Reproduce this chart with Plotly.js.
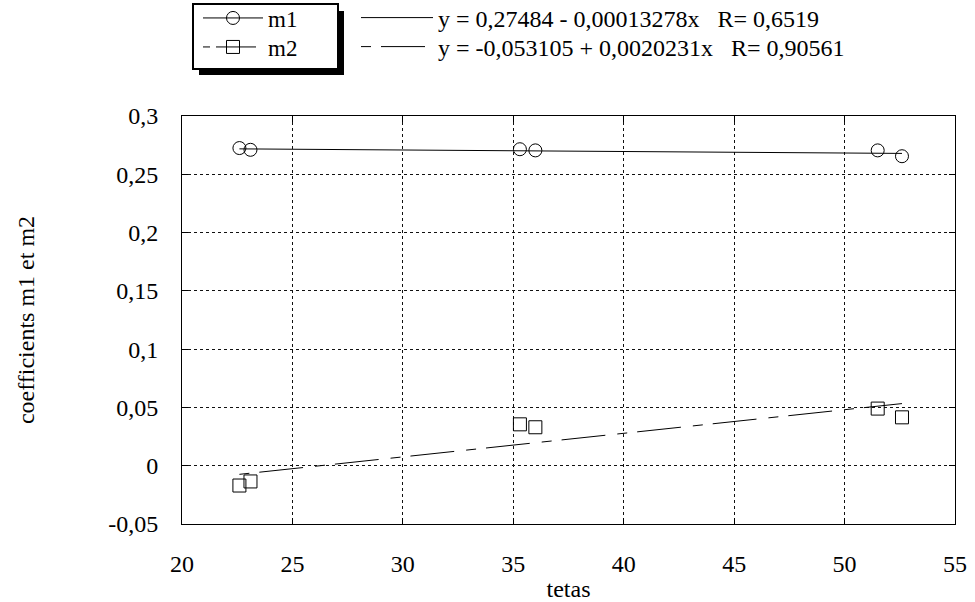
<!DOCTYPE html>
<html>
<head>
<meta charset="utf-8">
<script src="https://cdn.plot.ly/plotly-3.0.1.min.js"></script>
<style>
html,body{margin:0;padding:0;background:#fff;}
#chart{width:975px;height:602px;}
</style>
</head>
<body>
<div id="chart"></div>
<script>
// ---- data ----
const tetas = [22.6, 23.1, 35.3, 36.0, 51.5, 52.6];
const m1 = [0.2725, 0.2710, 0.2715, 0.2705, 0.2705, 0.2655];
const m2 = [-0.0170, -0.0135, 0.0355, 0.0330, 0.0490, 0.0415];
const fitX = [22.6, 52.6];
const fitM1 = [0.2718, 0.2679];
const fitM2 = [-0.0074, 0.0533];
const seriesNames = ["m1", "m2"];
const fitLabels = [
  "y = 0,27484 - 0,00013278x   R= 0,6519",
  "y = -0,053105 + 0,0020231x   R= 0,90561"
];
const xTicks = [20, 25, 30, 35, 40, 45, 50, 55];
const xTickText = ["20", "25", "30", "35", "40", "45", "50", "55"];
const yTicks = [-0.05, 0, 0.05, 0.1, 0.15, 0.2, 0.25, 0.3];
const yTickText = ["-0,05", "0", "0,05", "0,1", "0,15", "0,2", "0,25", "0,3"];

const FONT = "Liberation Serif";
const FS = 24;
const nb = s => s.replace(/ /g, "\u00a0");

const traces = [
  {x: tetas, y: m1, name: seriesNames[0], mode: "markers", type: "scatter",
   marker: {symbol: "circle-open", size: 13, color: "#000", line: {width: 1, color: "#000"}},
   showlegend: false},
  {x: tetas, y: m2, name: seriesNames[1], mode: "markers", type: "scatter",
   marker: {symbol: "square-open", size: 13, color: "#000", line: {width: 1, color: "#000"}},
   showlegend: false},
  {x: fitX, y: fitM1, name: nb(fitLabels[0]), mode: "lines", type: "scatter",
   line: {color: "#000", width: 1}, legend: "legend2"},
  {x: fitX, y: fitM2, name: nb(fitLabels[1]), mode: "lines", type: "scatter",
   line: {color: "#000", width: 1, dash: "10px,10px,44px,12px"}, legend: "legend4"},
  // legend entries for the measured series
  {x: [null], y: [null], name: seriesNames[0], mode: "lines+markers", type: "scatter",
   line: {color: "#000", width: 1},
   marker: {symbol: "circle-open", size: 13, color: "#000", line: {width: 1, color: "#000"}},
   legend: "legend"},
  {x: [null], y: [null], name: seriesNames[1], mode: "lines+markers", type: "scatter",
   line: {color: "#000", width: 1, dash: "7px,6px,40px"},
   marker: {symbol: "square-open", size: 13, color: "#000", line: {width: 1, color: "#000"}},
   legend: "legend3"}
];

// pixel -> paper helpers for legend placement (plot area 182..955 x 116..524)
const px = p => (p - 182) / 773;
const py = p => (524 - p) / 408;

function leg(xp, yp, iw, fs) {
  return {
    x: px(xp), y: py(yp), xanchor: "left", yanchor: "middle",
    bgcolor: "rgba(0,0,0,0)", borderwidth: 0, itemwidth: iw,
    font: {family: FONT, size: fs, color: "#000"}, tracegroupgap: 0
  };
}

const layout = {
  width: 975, height: 602,
  margin: {l: 182, r: 20, t: 116, b: 78, autoexpand: false},
  paper_bgcolor: "#fff", plot_bgcolor: "#fff",
  separators: ", ",
  font: {family: FONT, size: FS, color: "#000"},
  showlegend: true,
  xaxis: {
    range: [20, 55], tickmode: "array", tickvals: xTicks, ticktext: xTickText,
    showline: true, linecolor: "#000", linewidth: 1, mirror: "ticks",
    ticks: "inside", ticklen: 6, tickcolor: "#000",
    showgrid: true, gridcolor: "#111", gridwidth: 1, griddash: "3px,3px",
    zeroline: false, ticklabelstandoff: 18,
    tickfont: {family: FONT, size: FS},
    title: {text: "tetas", font: {family: FONT, size: FS}, standoff: 6}
  },
  yaxis: {
    range: [-0.05, 0.3], tickmode: "array", tickvals: yTicks, ticktext: yTickText,
    showline: true, linecolor: "#000", linewidth: 1, mirror: "ticks",
    ticks: "inside", ticklen: 6, tickcolor: "#000",
    showgrid: true, gridcolor: "#111", gridwidth: 1, griddash: "3px,3px",
    zeroline: false, ticklabelstandoff: 18,
    tickfont: {family: FONT, size: FS},
    title: {text: "coefficients m1 et m2", font: {family: FONT, size: FS}, standoff: 66}
  },
  legend: leg(198, 18, 60, 23),
  legend3: leg(198, 47, 60, 23),
  legend2: leg(356, 18, 72, 24),
  legend4: leg(356, 47, 72, 24),
  shapes: [
    {type: "rect", xref: "paper", yref: "paper", layer: "below",
     x0: px(199), x1: px(344), y0: py(75), y1: py(11),
     fillcolor: "#000", line: {width: 0}},
    {type: "rect", xref: "paper", yref: "paper", layer: "below",
     x0: px(193), x1: px(338), y0: py(69), y1: py(4),
     fillcolor: "#fff", line: {width: 2, color: "#000"}}
  ]
};

Plotly.newPlot("chart", traces, layout, {displayModeBar: false, staticPlot: true});
</script>
</body>
</html>
